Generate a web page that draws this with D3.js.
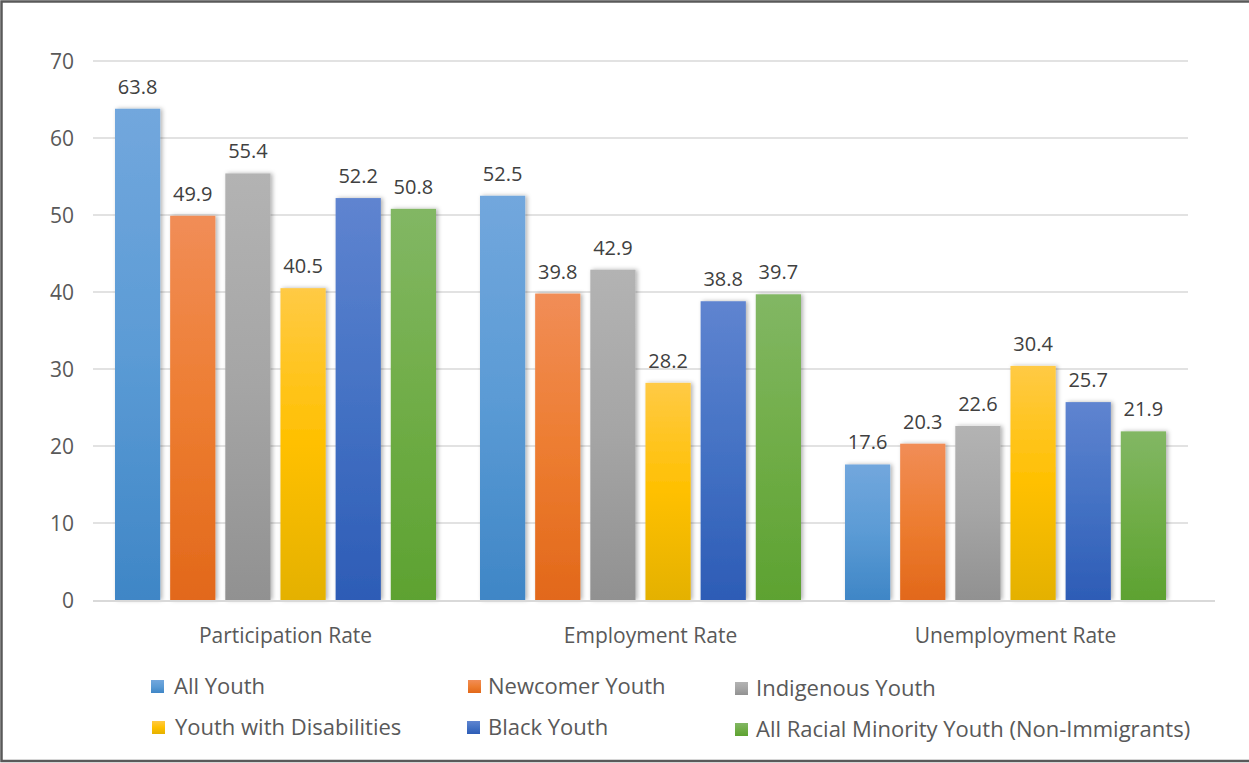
<!DOCTYPE html>
<html><head><meta charset="utf-8">
<script src="https://cdn.jsdelivr.net/npm/d3@7"></script>
<style>body{margin:0;background:#fff}svg{display:block;font-family:"Open Sans",sans-serif}</style>
</head><body>
<svg id="c" width="1249" height="763"></svg>
<script>
const categories = ["Participation Rate", "Employment Rate", "Unemployment Rate"];
const seriesNames = ["All Youth", "Newcomer Youth", "Indigenous Youth", "Youth with Disabilities", "Black Youth", "All Racial Minority Youth (Non-Immigrants)"];
const allYouth = [63.8, 52.5, 17.6];
const newcomerYouth = [49.9, 39.8, 20.3];
const indigenousYouth = [55.4, 42.9, 22.6];
const disabilitiesYouth = [40.5, 28.2, 30.4];
const blackYouth = [52.2, 38.8, 25.7];
const racialMinorityYouth = [50.8, 39.7, 21.9];
const yTicks = [0, 10, 20, 30, 40, 50, 60, 70];
const seriesValues = [allYouth, newcomerYouth, indigenousYouth, disabilitiesYouth, blackYouth, racialMinorityYouth];
const colors = [
  ["#72a7dd", "#5b9bd5", "#3f86c6"],
  ["#f18d57", "#ed7d31", "#e2681a"],
  ["#b3b3b3", "#a5a5a5", "#919191"],
  ["#ffca45", "#ffc000", "#e4b100"],
  ["#5f84d0", "#4472c4", "#2d5cb6"],
  ["#82b764", "#70ad47", "#5da231"]
];
const FONT = '"Open Sans",sans-serif';

const svg = d3.select("#c");
const defs = svg.append("defs");
colors.forEach((c, i) => {
  const g = defs.append("linearGradient").attr("id", "g" + i).attr("x1", 0).attr("y1", 0).attr("x2", 0).attr("y2", 1);
  g.append("stop").attr("offset", "0%").attr("stop-color", c[0]);
  g.append("stop").attr("offset", "50%").attr("stop-color", c[1]);
  g.append("stop").attr("offset", "100%").attr("stop-color", c[2]);
});
const f = defs.append("filter").attr("id", "sh").attr("x", "-20%").attr("y", "-10%").attr("width", "150%").attr("height", "120%");
f.append("feDropShadow").attr("dx", 2).attr("dy", 0).attr("stdDeviation", 2).attr("flood-color", "#000").attr("flood-opacity", 0.3);

// border
svg.append("rect").attr("x", 1.5).attr("y", 1.5).attr("width", 1250).attr("height", 759.5)
  .attr("fill", "none").attr("stroke", "#595959").attr("stroke-width", 2.5);

const x0 = d3.scaleBand().domain(categories).range([93, 1188]).paddingInner(0).paddingOuter(0);
const x1 = d3.scaleBand().domain(d3.range(seriesNames.length)).range([22, 343]).paddingInner(0.18).paddingOuter(0);
const y = d3.scaleLinear().domain([0, 70]).range([600, 61]);

// gridlines
svg.append("g").selectAll("line").data(yTicks.filter(d => d > 0)).join("line")
  .attr("x1", 93).attr("x2", 1188).attr("y1", d => y(d)).attr("y2", d => y(d))
  .attr("stroke", "#d9d9d9").attr("stroke-width", 1.5);

// y axis labels
const yAxis = d3.axisLeft(y).tickValues(yTicks).tickSize(0).tickPadding(0);
const ya = svg.append("g").attr("transform", "translate(74,0)").call(yAxis);
ya.select(".domain").remove();
ya.selectAll("text").attr("font-size", 21).attr("fill", "#595959").attr("font-family", FONT).attr("dy", "0.35em");

// bars
const groups = svg.append("g").selectAll("g").data(categories).join("g")
  .attr("transform", d => `translate(${x0(d)},0)`);
groups.each(function(cat, ci) {
  const g = d3.select(this);
  seriesValues.forEach((vals, si) => {
    const v = vals[ci];
    g.append("rect").attr("x", x1(si)).attr("width", x1.bandwidth())
      .attr("y", y(v)).attr("height", y(0) - y(v))
      .attr("fill", `url(#g${si})`).attr("filter", "url(#sh)");
    g.append("text").attr("x", x1(si) + x1.bandwidth() / 2).attr("y", y(v) - 15)
      .attr("text-anchor", "middle").attr("font-size", 20).attr("fill", "#404040").text(v.toFixed(1));
  });
});

// x axis baseline
svg.append("line").attr("x1", 93).attr("x2", 1215).attr("y1", 601).attr("y2", 601)
  .attr("stroke", "#d9d9d9").attr("stroke-width", 2);

const xAxis = d3.axisBottom(x0).tickSize(0).tickPadding(0);
const xa = svg.append("g").attr("transform", "translate(10,643)").call(xAxis);
xa.select(".domain").remove();
xa.selectAll("text").attr("font-size", 21).attr("fill", "#595959").attr("font-family", FONT).attr("dy", 0);

// legend
const legendPos = [[151, 686, 23], [468, 686, 20], [735, 688, 21], [152, 727, 23], [467, 727, 21], [735, 729, 21]];
const lg = svg.append("g").selectAll("g").data(seriesNames).join("g")
  .attr("transform", (d, i) => `translate(${legendPos[i][0]},${legendPos[i][1]})`);
lg.append("rect").attr("x", 0).attr("y", -6).attr("width", 13).attr("height", 13)
  .attr("fill", (d, i) => `url(#g${i})`);
lg.append("text").attr("x", (d, i) => legendPos[i][2]).attr("y", 8).attr("font-size", 22).attr("fill", "#595959").text(d => d);
</script>
</body></html>
